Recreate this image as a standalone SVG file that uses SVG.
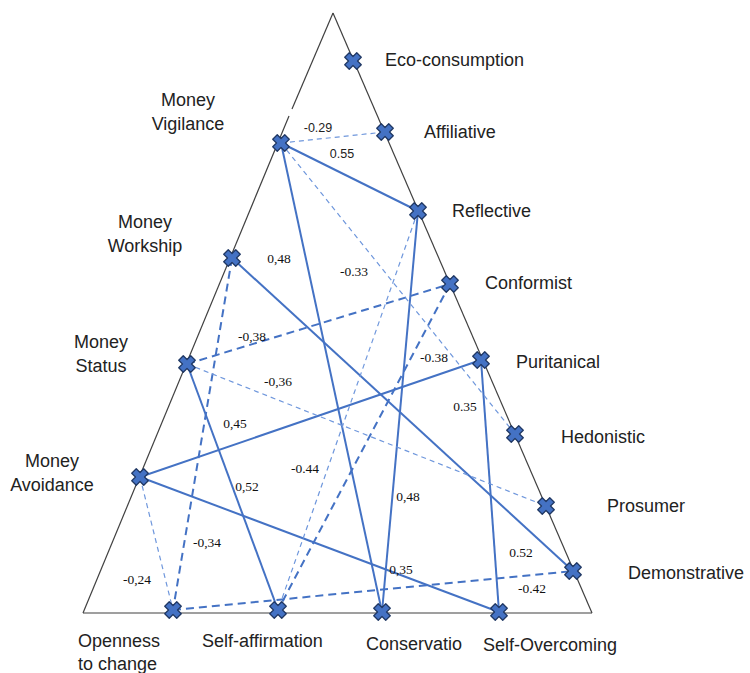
<svg xmlns="http://www.w3.org/2000/svg" xmlns:xlink="http://www.w3.org/1999/xlink" width="750" height="673" viewBox="0 0 750 673">
<style>
.edge{stroke:#404040;stroke-width:1.2;fill:none}
.solid{stroke:#4472C4;stroke-width:2;fill:none}
.dash{stroke:#4472C4;stroke-width:2;fill:none;stroke-dasharray:8 5}
.thin{stroke:#6F97DC;stroke-width:1.2;fill:none;stroke-dasharray:5 4}
.lbl{font-family:"Liberation Sans",Arial,sans-serif;font-size:18px;fill:#222}
.num{font-family:"Liberation Serif","Times New Roman",serif;font-size:13.5px;fill:#111;text-anchor:middle}
.nums{font-family:"Liberation Sans",Arial,sans-serif;font-size:12.5px;fill:#222;text-anchor:middle}
.mk{fill:#4472C4;stroke:#203864;stroke-width:1.3;stroke-linejoin:round}
</style>
<defs>
<polygon id="x" class="mk" transform="rotate(45)" points="-3.2,-8.5 3.2,-8.5 3.2,-3.2 8.5,-3.2 8.5,3.2 3.2,3.2 3.2,8.5 -3.2,8.5 -3.2,3.2 -8.5,3.2 -8.5,-3.2 -3.2,-3.2"/>
</defs>
<rect width="750" height="673" fill="#fff"/>
<g id="triangle">
<line class="edge" x1="333" y1="13" x2="292" y2="109"/>
<line class="edge" x1="289" y1="116" x2="83" y2="613"/>
<line class="edge" x1="333" y1="13" x2="592" y2="613"/>
<line class="edge" x1="83" y1="613" x2="592" y2="613"/>
</g>
<g id="connectors">
<line class="solid" x1="281" y1="143" x2="418" y2="211"/>
<line class="solid" x1="281" y1="143" x2="382" y2="612"/>
<line class="solid" x1="232" y1="258" x2="573" y2="571"/>
<line class="solid" x1="187" y1="364" x2="278" y2="610"/>
<line class="solid" x1="140" y1="477" x2="481" y2="360"/>
<line class="solid" x1="140" y1="477" x2="499" y2="612"/>
<line class="solid" x1="418" y1="211" x2="382" y2="612"/>
<line class="solid" x1="481" y1="360" x2="499" y2="612"/>
<line class="dash" x1="232" y1="258" x2="173" y2="610"/>
<line class="dash" x1="187" y1="364" x2="450" y2="284"/>
<line class="dash" x1="450" y1="284" x2="278" y2="610"/>
<line class="dash" x1="173" y1="610" x2="573" y2="571"/>
<line class="thin" x1="281" y1="143" x2="385" y2="132"/>
<line class="thin" x1="281" y1="143" x2="515" y2="434"/>
<line class="thin" x1="187" y1="364" x2="546" y2="506"/>
<line class="thin" x1="140" y1="477" x2="173" y2="610"/>
<line class="thin" x1="418" y1="211" x2="278" y2="610"/>
</g>
<g id="weights">
<text class="nums" x="318" y="132">-0.29</text>
<text class="nums" x="342" y="158">0.55</text>
<text class="num" x="279" y="263">0,48</text>
<text class="num" x="354" y="276">-0.33</text>
<text class="num" x="252" y="341">-0,38</text>
<text class="num" x="434" y="362">-0.38</text>
<text class="num" x="278" y="386">-0,36</text>
<text class="num" x="235" y="428">0,45</text>
<text class="num" x="465" y="411">0.35</text>
<text class="num" x="305" y="473">-0.44</text>
<text class="num" x="247" y="491">0,52</text>
<text class="num" x="207" y="547">-0,34</text>
<text class="num" x="137" y="584">-0,24</text>
<text class="num" x="408" y="501">0,48</text>
<text class="num" x="521" y="557">0.52</text>
<text class="num" x="401" y="574">0,35</text>
<text class="num" x="532" y="593">-0.42</text>
</g>
<g id="eco-consumption"><use href="#x" x="353" y="61"/><text class="lbl" x="385" y="66">Eco-consumption</text></g>
<g id="affiliative"><use href="#x" x="385" y="132"/><text class="lbl" x="424" y="138">Affiliative</text></g>
<g id="money-vigilance"><use href="#x" x="281" y="143"/><text class="lbl" text-anchor="middle" x="188" y="106">Money</text><text class="lbl" text-anchor="middle" x="188" y="130">Vigilance</text></g>
<g id="reflective"><use href="#x" x="418" y="211"/><text class="lbl" x="452" y="217">Reflective</text></g>
<g id="money-workship"><use href="#x" x="232" y="258"/><text class="lbl" text-anchor="middle" x="145" y="228">Money</text><text class="lbl" text-anchor="middle" x="145" y="252">Workship</text></g>
<g id="conformist"><use href="#x" x="450" y="284"/><text class="lbl" x="485" y="289">Conformist</text></g>
<g id="money-status"><use href="#x" x="187" y="364"/><text class="lbl" text-anchor="middle" x="101" y="348">Money</text><text class="lbl" text-anchor="middle" x="101" y="372">Status</text></g>
<g id="puritanical"><use href="#x" x="481" y="360"/><text class="lbl" x="516" y="368">Puritanical</text></g>
<g id="hedonistic"><use href="#x" x="515" y="434"/><text class="lbl" x="561" y="443">Hedonistic</text></g>
<g id="money-avoidance"><use href="#x" x="140" y="477"/><text class="lbl" text-anchor="middle" x="52" y="467">Money</text><text class="lbl" text-anchor="middle" x="52" y="491">Avoidance</text></g>
<g id="prosumer"><use href="#x" x="546" y="506"/><text class="lbl" x="607" y="512">Prosumer</text></g>
<g id="demonstrative"><use href="#x" x="573" y="571"/><text class="lbl" x="628" y="579">Demonstrative</text></g>
<g id="openness-to-change"><use href="#x" x="173" y="610"/><text class="lbl" x="78" y="647">Openness</text><text class="lbl" x="78" y="670">to change</text></g>
<g id="self-affirmation"><use href="#x" x="278" y="610"/><text class="lbl" x="202" y="647">Self-affirmation</text></g>
<g id="conservatio"><use href="#x" x="382" y="612"/><text class="lbl" x="366" y="650">Conservatio</text></g>
<g id="self-overcoming"><use href="#x" x="499" y="612"/><text class="lbl" x="483" y="651">Self-Overcoming</text></g>
</svg>
